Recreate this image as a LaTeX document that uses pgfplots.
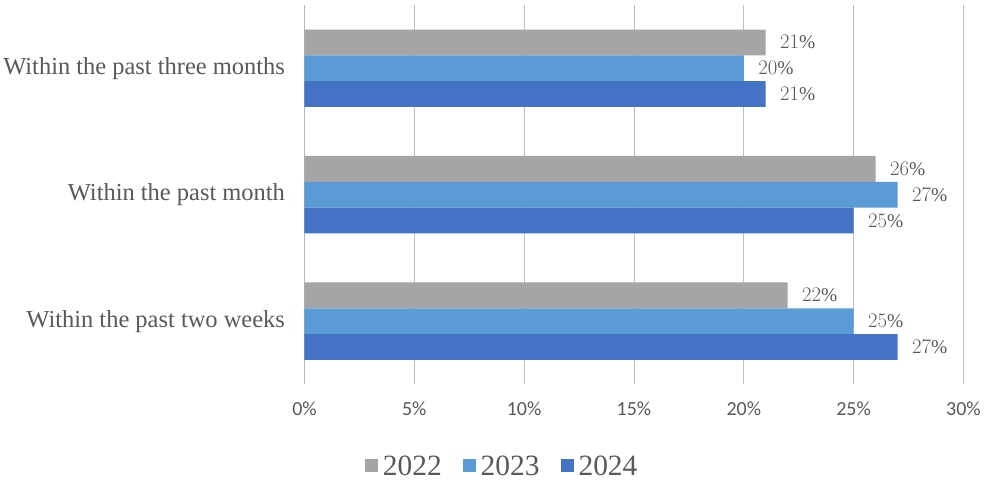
\documentclass[border=0pt]{standalone}
\usepackage{pgfplots}
\pgfplotsset{compat=1.18}
\usepackage{fontspec}
\setmainfont{Liberation Serif}
\newfontfamily\carlito{Carlito}
\definecolor{c22}{HTML}{A5A5A5}
\definecolor{c23}{HTML}{5B9BD5}
\definecolor{c24}{HTML}{4472C4}
\definecolor{txt}{HTML}{595959}
\definecolor{grid}{HTML}{D9D9D9}
\begin{document}
\begin{tikzpicture}
\begin{axis}[
  scale only axis,
  width=660pt, height=380pt,
  xbar, bar width=0.204,
  xmin=0, xmax=30, ymin=-0.5, ymax=2.5,
  xtick={0,5,10,15,20,25,30},
  xticklabels={0\%,5\%,10\%,15\%,20\%,25\%,30\%},
  xticklabel style={font=\carlito\fontsize{20}{22}\selectfont, text=txt},
  ytick={0,1,2},
  yticklabels={Within the past two weeks,Within the past month,Within the past three months},
  yticklabel style={font=\fontsize{24.5}{27}\selectfont, text=txt},
  major tick length=0pt,
  xtick style={draw=none}, ytick style={draw=none},
  xmajorgrids, ymajorgrids=false, grid style={grid, line width=0.8pt},
  axis lines*=left,
  x axis line style={draw=none},
  y axis line style={draw=c22!80, line width=0.8pt, -},
  nodes near coords={\pgfmathprintnumber{\pgfplotspointmeta}\%},
  nodes near coords style={font=\fontsize{19.5}{22}\selectfont, text=txt, anchor=west, xshift=11pt},
  legend style={at={(0.30,-0.215)}, anchor=center, draw=none, legend columns=3,
    font=\fontsize{29.5}{31}\selectfont, text=txt,
    /tikz/every odd column/.append style={column sep=3pt},
    /tikz/every even column/.append style={column sep=19pt}},
  legend image code/.code={\fill[#1] (0pt,-6pt) rectangle (13pt,7pt);},
  xticklabel shift=14pt,
  yticklabel shift=16pt,
  after end axis/.code={
    \path (rel axis cs:0,1) ++(0pt,5pt);
    \path (rel axis cs:0,-0.247);
  },
]
\addplot[fill=c22, draw=none, bar shift=0.204] coordinates {(22,0) (26,1) (21,2)};
\addplot[fill=c23, draw=none, bar shift=0] coordinates {(25,0) (27,1) (20,2)};
\addplot[fill=c24, draw=none, bar shift=-0.204] coordinates {(27,0) (25,1) (21,2)};
\legend{2022,2023,2024}
\end{axis}
\end{tikzpicture}
\end{document}
